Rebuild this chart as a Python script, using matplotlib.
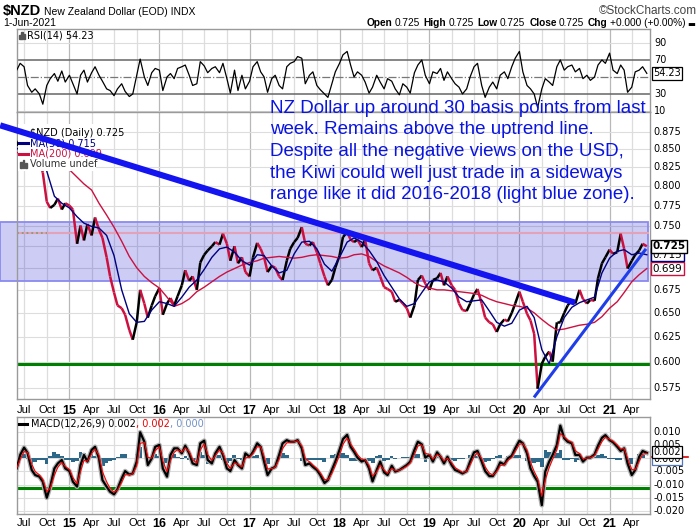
import matplotlib
matplotlib.use('Agg')
import matplotlib.pyplot as plt
import matplotlib.dates as mdates
from matplotlib.collections import LineCollection
from matplotlib.patches import Rectangle
from matplotlib.lines import Line2D
import numpy as np
import pandas as pd

W, H = 700, 530

# semi-monthly closes, Jun 2014 .. Jun 2021
price = [0.855, 0.865, 0.876, 0.868, 0.852, 0.845, 0.835, 0.818, 0.780, 0.772, 0.776, 0.784, 0.770, 0.778,
         0.775, 0.770, 0.728, 0.750, 0.732, 0.752, 0.738, 0.760, 0.745, 0.735, 0.712, 0.690,
         0.672, 0.658, 0.655, 0.648, 0.632, 0.622, 0.640, 0.675, 0.660, 0.645, 0.658, 0.668,
         0.677, 0.648, 0.660, 0.666, 0.658, 0.668, 0.680, 0.697, 0.685, 0.690, 0.675, 0.706,
         0.715, 0.720, 0.725, 0.730, 0.727, 0.740, 0.728, 0.708, 0.725, 0.705, 0.712, 0.695,
         0.690, 0.712, 0.729, 0.722, 0.712, 0.695, 0.702, 0.700, 0.690, 0.686, 0.708, 0.722,
         0.730, 0.735, 0.748, 0.728, 0.726, 0.730, 0.718, 0.705, 0.690, 0.680, 0.686, 0.700,
         0.714, 0.736, 0.742, 0.733, 0.730, 0.733, 0.724, 0.733, 0.705, 0.697, 0.700, 0.690,
         0.678, 0.676, 0.673, 0.662, 0.664, 0.660, 0.655, 0.645, 0.658, 0.686, 0.691, 0.682,
         0.675, 0.686, 0.688, 0.694, 0.680, 0.690, 0.680, 0.675, 0.660, 0.653, 0.652, 0.660,
         0.670, 0.676, 0.660, 0.645, 0.640, 0.638, 0.630, 0.638, 0.643, 0.641, 0.650, 0.660,
         0.673, 0.662, 0.649, 0.642, 0.628, 0.574, 0.598, 0.605, 0.610, 0.600, 0.640, 0.640,
         0.650, 0.658, 0.664, 0.660, 0.675, 0.665, 0.660, 0.664, 0.663, 0.688, 0.705, 0.712,
         0.721, 0.716, 0.718, 0.740, 0.722, 0.699, 0.708, 0.715, 0.720, 0.728, 0.725]

rsi = [58, 66, 62, 40, 32, 36, 30, 18, 40, 48, 54, 45, 57, 44,
       52, 42, 30, 52, 58, 44, 55, 62, 52, 45, 36, 34, 28, 36, 42, 33, 27, 30, 52, 71, 50, 40, 55, 60,
       58, 34, 50, 54, 48, 60, 62, 64, 52, 40, 42, 68, 63, 55, 60, 62, 55, 66, 48, 31, 58, 34, 52, 36,
       45, 62, 68, 56, 50, 32, 48, 52, 40, 36, 62, 66, 68, 74, 72, 42, 52, 56, 40, 35, 30, 26, 42, 56,
       66, 76, 80, 64, 50, 56, 52, 44, 31, 38, 52, 44, 36, 48, 45, 36, 29, 42, 38, 31, 55, 64, 70, 52,
       42, 56, 54, 60, 46, 56, 48, 42, 38, 30, 36, 50, 62, 66, 40, 26, 38, 44, 36, 52, 56, 48, 62, 72,
       80, 56, 40, 36, 30, 14, 36, 48, 44, 40, 62, 70, 58, 62, 64, 56, 60, 48, 52, 46, 50, 64, 70, 66,
       78, 58, 54, 64, 58, 32, 38, 56, 58, 62, 54.23]

macd = [-0.0039, 0.0012, 0.0040, 0.0020, -0.0045, -0.0064, -0.0070, -0.0089, -0.0150, -0.0108, -0.0039, -0.0020, -0.0007, -0.0039,
        -0.0049, -0.0089, -0.0108, -0.0026, 0.0012, -0.0013, 0.0031, 0.0043, -0.0001, -0.0083, -0.0108, -0.0127,
        -0.0137, -0.0117, -0.0077, -0.0049, -0.0062, -0.0058, -0.0013, 0.0098, 0.0062, -0.0026, -0.0001, 0.0043,
        0.0050, -0.0039, -0.0070, 0.0012, 0.0037, 0.0037, 0.0018, 0.0047, 0.0018, -0.0020, -0.0026, 0.0056,
        0.0066, -0.0007, -0.0020, 0.0018, 0.0043, 0.0012, -0.0039, -0.0049, -0.0007, -0.0026, -0.0039, 0.0018,
        0.0005, 0.0024, 0.0056, 0.0043, -0.0013, -0.0064, -0.0039, -0.0033, 0.0012, 0.0056, 0.0068, 0.0062,
        0.0062, 0.0068, 0.0037, -0.0026, -0.0020, -0.0033, -0.0045, -0.0064, -0.0094, -0.0083, -0.0045, -0.0013,
        0.0031, 0.0072, 0.0088, 0.0043, 0.0024, 0.0002, -0.0013, -0.0007, -0.0039, -0.0088, -0.0045, -0.0013,
        -0.0054, -0.0064, -0.0029, -0.0051, -0.0045, -0.0036, -0.0026, -0.0013, 0.0031, 0.0062, 0.0052, 0.0002,
        0.0012, -0.0013, 0.0022, 0.0005, -0.0020, 0.0005, -0.0026, -0.0045, -0.0051, -0.0058, -0.0049, -0.0013,
        0.0022, 0.0027, -0.0013, -0.0049, -0.0068, -0.0068, -0.0045, -0.0016, -0.0024, -0.0001, 0.0009, 0.0037,
        0.0066, 0.0056, 0.0018, -0.0039, -0.0068, -0.0089, -0.0178, -0.0051, -0.0013, 0.0012, 0.0050, 0.0123,
        0.0075, 0.0062, 0.0056, 0.0012, 0.0012, -0.0013, 0.0002, 0.0002, 0.0014, 0.0047, 0.0077, 0.0087,
        0.0068, 0.0060, 0.0043, 0.0027, 0.0037, -0.0020, -0.0064, -0.0045, 0.0005, 0.0027, 0.0020]

# monthly moving averages, Jun 2014 .. Jun 2021
ma50 = [0.850, 0.858, 0.862, 0.848, 0.820, 0.787, 0.778,
        0.772, 0.761, 0.753, 0.749, 0.747, 0.738, 0.714, 0.675, 0.649, 0.640, 0.641, 0.653,
        0.662, 0.660, 0.657, 0.667, 0.678, 0.686, 0.698, 0.712, 0.722, 0.724, 0.718, 0.708,
        0.703, 0.715, 0.714, 0.702, 0.694, 0.697, 0.716, 0.730, 0.731, 0.722, 0.704, 0.696,
        0.712, 0.730, 0.735, 0.730, 0.720, 0.707, 0.691, 0.678, 0.665, 0.657, 0.660, 0.672,
        0.684, 0.686, 0.684, 0.677, 0.667, 0.662, 0.663, 0.664, 0.652, 0.640, 0.636, 0.639,
        0.653, 0.657, 0.645, 0.612, 0.598, 0.625, 0.645, 0.656, 0.661, 0.664, 0.667, 0.694,
        0.711, 0.719, 0.721, 0.715, 0.717, 0.715]
ma200 = [0.845, 0.848, 0.848, 0.845, 0.838, 0.832, 0.827,
         0.822, 0.812, 0.803, 0.795, 0.778, 0.763, 0.748, 0.731, 0.713, 0.700, 0.690, 0.683,
         0.677, 0.667, 0.657, 0.660, 0.665, 0.673, 0.678, 0.684, 0.690, 0.695, 0.699, 0.703,
         0.706, 0.708, 0.711, 0.712, 0.713, 0.712, 0.711, 0.712, 0.714, 0.715, 0.714, 0.713,
         0.711, 0.712, 0.715, 0.716, 0.713, 0.707, 0.702, 0.698, 0.694, 0.689, 0.683, 0.679,
         0.677, 0.675, 0.675, 0.674, 0.673, 0.672, 0.671, 0.669, 0.665, 0.662, 0.660, 0.658,
         0.657, 0.655, 0.650, 0.643, 0.637, 0.632, 0.633, 0.635, 0.637, 0.638, 0.640, 0.646,
         0.655, 0.662, 0.672, 0.684, 0.692, 0.699]

# drawn annotations
down_dates = ['2014-03-26', '2020-08-14']
down_vals = [0.884, 0.661]
up_dates = ['2020-03-04', '2021-05-25']
up_vals = [0.567, 0.7205]
zone_lo, zone_hi = 0.6852, 0.7548
zone_dates = ['2014-03-25', '2021-06-06']
pink_level = 0.7413
support = 0.5974
macd_support = -0.0112

note = ["NZ Dollar up around 30 basis points from last",
        "week. Remains above the uptrend line.",
        "Despite all the negative views on the USD,",
        "the Kiwi could well just trade in a sideways",
        "range like it did 2016-2018 (light blue zone)."]

main_ticks = [0.575, 0.600, 0.625, 0.650, 0.675, 0.750, 0.775, 0.800, 0.825, 0.850, 0.875]
rsi_ticks = [90, 70, 30, 10]
macd_ticks = [0.010, 0.005, -0.005, -0.010, -0.015, -0.020]

dates = pd.date_range('2014-06-01', '2021-06-01', freq='SMS')
mdts = pd.date_range('2014-06-01', '2021-06-01', freq='MS')
quarters = pd.date_range('2014-07-01', '2021-04-01', freq='QS')
qlabels = [str(d.year % 100) if d.month == 1 else d.strftime('%b') for d in quarters]

xd = mdates.date2num(dates)
xm = mdates.date2num(mdts)
x0 = mdates.date2num(pd.Timestamp('2014-06-01'))
x1 = mdates.date2num(pd.Timestamp('2021-06-14'))

plt.rcParams['font.family'] = ['DejaVu Sans']
fig = plt.figure(figsize=(7, 5.3), dpi=100)
rend = fig.canvas.get_renderer()


def fx(x):
    return x / W


def fy(y):
    return 1 - y / H


L, R = 16.7, 650
ax_r = fig.add_axes([fx(L), fy(111.5), (R - L) / W, (111.5 - 29.3) / H])
ax = fig.add_axes([fx(L), fy(399), (R - L) / W, (399 - 111.5) / H])
ax_m = fig.add_axes([fx(L), fy(514.3), (R - L) / W, (514.3 - 417.3) / H])

for a in (ax_r, ax, ax_m):
    a.set_xlim(x0, x1)
    for s in a.spines.values():
        s.set_color('#9a9a9a')
        s.set_linewidth(1)
    a.set_yticks([])
    a.tick_params(length=0)
    for q in quarters:
        col = '#b8b8b8' if q.month == 1 else '#dddddd'
        a.axvline(mdates.date2num(q), color=col, lw=0.9, zorder=0)

lab_font = dict(fontsize=7, color='black', va='center', ha='left', clip_on=False)
arial = ['Liberation Sans', 'DejaVu Sans']

# ---------------- RSI panel
ax_r.set_ylim(9.4, 106)
ax_r.set_xticks([])
for v in (90, 10):
    ax_r.axhline(v, color='#dddddd', lw=0.8, zorder=0)
ax_r.axhline(70, color='#666666', lw=1.1, zorder=1)
ax_r.axhline(30, color='#666666', lw=1.1, zorder=1)
ax_r.axhline(50, color='#777777', lw=0.9, ls='-.', zorder=1)
ax_r.plot(xd, rsi, color='black', lw=0.9, zorder=3)
for v in rsi_ticks:
    ax_r.text(1.007, v, str(v), transform=ax_r.get_yaxis_transform(), **lab_font)
ax_r.text(1.005, 54.23, '54.23', transform=ax_r.get_yaxis_transform(), fontsize=7, va='center',
          ha='left', bbox=dict(boxstyle='square,pad=0.12', fc='white', ec='black', lw=0.9), zorder=5)
fig.text(fx(27), fy(38.5), 'RSI(14) 54.23', fontsize=7, va='baseline')
for i, h in enumerate([4, 7, 5]):
    fig.add_artist(Rectangle((fx(19 + i * 2.4), fy(38.5)), 1.6 / W, h / H, color='#555555'))

# ---------------- price panel
ax.set_yscale('log')
ax.set_ylim(0.5644, 0.9043)
ax.yaxis.set_minor_locator(matplotlib.ticker.NullLocator())
ax.set_yticks([])
for v in main_ticks + [0.700, 0.725]:
    ax.axhline(v, color='#dddddd', lw=0.8, zorder=0)

zx0, zx1 = mdates.date2num(pd.to_datetime(zone_dates))
ax.add_patch(Rectangle((zx0, zone_lo), zx1 - zx0, zone_hi - zone_lo, fc=(0, 0, 0.8, 0.2),
                       ec='#8a8af0', lw=1.3, clip_on=False, zorder=1))
ax.plot([x0, zx1], [pink_level] * 2, color='#e4a2b8', lw=1.5, zorder=1.5)
ax.plot([x0, mdates.date2num(pd.Timestamp('2014-10-01'))], [pink_level] * 2, color='#8c9a70',
        lw=1.3, ls=':', zorder=1.6)
ax.axhline(support, color='#008000', lw=2.2, zorder=2)

segs = [[(xd[i], price[i]), (xd[i + 1], price[i + 1])] for i in range(len(price) - 1)]
cols = ['black' if price[i + 1] >= price[i] else '#cc1040' for i in range(len(price) - 1)]
ax.add_collection(LineCollection(segs, colors=cols, linewidths=1.8, zorder=3))
ax.plot(xm, ma200, color='#cc1040', lw=1.0, zorder=3.5)
ax.plot(xm, ma50, color='#000080', lw=1.0, zorder=3.6)

ax.plot(mdates.date2num(pd.to_datetime(up_dates)), up_vals, color='#1f3de8', lw=2.2, zorder=4)

# legend with white backing
ax.add_patch(Rectangle((fx(L + 0.8), fy(171)), (95 - L) / W, (171 - 124) / H, transform=fig.transFigure,
                       fc='white', ec='none', zorder=4.5, clip_on=False))
lg = dict(fontsize=7, va='center', zorder=5, transform=fig.transFigure)
ax.text(fx(30), fy(132.5), '$NZD (Daily) 0.725', color='black', **lg)
ax.text(fx(30), fy(143.3), 'MA(50) 0.715', color='#000080', **lg)
ax.text(fx(30), fy(154), 'MA(200) 0.699', color='#cc1040', **lg)
ax.text(fx(30), fy(164.3), 'Volume undef', color='#333333', **lg)
for yy, c in ((143.3, '#000080'), (154, '#cc1040')):
    ax.add_line(Line2D([fx(19), fx(28)], [fy(yy), fy(yy)], transform=fig.transFigure, color=c, lw=2.2,
                       zorder=5, clip_on=False))
for i, h in enumerate([6, 8, 5]):
    ax.add_patch(Rectangle((fx(20 + i * 2.6), fy(168)), 1.8 / W, h / H, transform=fig.transFigure,
                           color='#555555', zorder=5, clip_on=False))

ax.plot(mdates.date2num(pd.to_datetime(down_dates)), down_vals, color='#1414f0', lw=4.4, zorder=6,
        clip_on=False, solid_capstyle='butt')

for v in main_ticks:
    ax.text(1.006, v, '%.3f' % v, transform=ax.get_yaxis_transform(), **lab_font)
boxes = [(0.699, '0.699', '#cc1040', 'normal'), (0.715, '0.715', '#000080', 'normal'),
         (0.725, '0.725', 'black', 'bold')]
for v, s, c, wgt in boxes:
    ax.text(1.004, v, s, transform=ax.get_yaxis_transform(), fontsize=7.5, va='center', ha='left',
            fontweight=wgt, bbox=dict(boxstyle='square,pad=0.12', fc='white', ec=c, lw=1), zorder=7,
            clip_on=False)

ax.set_xticks(mdates.date2num(quarters))
ax.set_xticklabels(qlabels)
ax.tick_params(axis='x', length=0, pad=4)

# annotation, sized so the first line spans the same width as the original
notes = []
for i, line in enumerate(note):
    notes.append(fig.text(fx(270), fy(113 + i * 21.5), line, color='#0a14e0', fontsize=12,
                          family=arial, va='baseline', zorder=10))
k = 378 / notes[0].get_window_extent(renderer=rend).width
for t in notes:
    t.set_fontsize(12 * k)

# ---------------- MACD panel
macd_s = pd.Series(macd)
signal = macd_s.ewm(span=2, adjust=False).mean()
hist = macd_s - signal
ax_m.set_ylim(-0.02125, 0.01545)
for v in macd_ticks + [0.0]:
    ax_m.axhline(v, color='#dddddd', lw=0.8, zorder=0)
ax_m.fill_between(xd, 0, hist, step='mid', color='#2d6889', lw=0, zorder=2)
ax_m.axhline(macd_support, color='#008000', lw=2.2, zorder=2.5)
ax_m.plot(xd, macd, color='#b0b0b0', lw=3.4, zorder=3)
ax_m.plot(xd, macd, color='black', lw=1.6, zorder=3.2)
ax_m.plot(xd, signal, color='#ff0000', lw=0.8, zorder=3.4)
for v in macd_ticks:
    ax_m.text(1.006, v, '%.3f' % v, transform=ax_m.get_yaxis_transform(), **lab_font)
ax_m.plot([1.003, 1.06], [0.0005, 0.0005], transform=ax_m.get_yaxis_transform(), color='#dd0000',
          lw=1.2, clip_on=False, zorder=4)
ax_m.text(1.005, -0.0004, '0.000', transform=ax_m.get_yaxis_transform(), fontsize=7, va='center',
          ha='left', bbox=dict(boxstyle='square,pad=0.12', fc='white', ec='#5577bb', lw=0.9), zorder=4)
ax_m.text(1.005, 0.0022, '0.002', transform=ax_m.get_yaxis_transform(), fontsize=7, va='center',
          ha='left', bbox=dict(boxstyle='square,pad=0.12', fc='white', ec='black', lw=0.9), zorder=5)
ax_m.set_xticks(mdates.date2num(quarters))
ax_m.set_xticklabels(qlabels)
ax_m.tick_params(axis='x', length=0, pad=2.5)

for a in (ax, ax_m):
    for t in a.get_xticklabels():
        t.set_family(arial)
        if t.get_text().isdigit():
            t.set_fontweight('bold')
            t.set_fontsize(9)
        else:
            t.set_fontsize(8)


# ---------------- header texts
def chain(x, y, parts, align='left'):
    objs = []
    cur = x
    for s, kw, gap in parts:
        t = fig.text(fx(cur), fy(y), s, va='baseline', **kw)
        cur += t.get_window_extent(renderer=rend).width + gap
        objs.append(t)
    if align == 'right':
        for t in objs:
            px, py = t.get_position()
            t.set_x(px - (cur - x) / W)
    return objs


chain(3, 15, [('$NZD', dict(fontsize=10.5, fontweight='bold', family=arial), 3),
              ('New Zealand Dollar (EOD) INDX', dict(fontsize=7.5, family=arial), 0)])
fig.text(fx(697), fy(13.5), '\u00a9StockCharts.com', fontsize=8.5, family=arial, color='#444444',
         ha='right', va='baseline')
fig.text(fx(3), fy(26.5), '1-Jun-2021', fontsize=7.5, family=arial, va='baseline')
b = dict(fontsize=7.3, family=arial, fontweight='bold')
n = dict(fontsize=7.3, family=arial)
chain(697, 26.5, [('Open', b, 2), ('0.725', n, 4), ('High', b, 2), ('0.725', n, 4), ('Low', b, 2),
                  ('0.725', n, 4), ('Close', b, 2), ('0.725', n, 4), ('Chg', b, 2), ('+0.000 (+0.00%)', n, 2),
                  ('\u25ac', dict(fontsize=6, family=['DejaVu Sans']), 2)], align='right')

chain(31, 426.5, [('MACD(12,26,9) 0.002', dict(fontsize=7), 0), (', 0.002', dict(fontsize=7, color='#ee0000'), 0),
                  (', 0.000', dict(fontsize=7, color='#6f90c8'), 0)])
fig.add_artist(Line2D([fx(19), fx(27)], [fy(423.5), fy(423.5)], color='black', lw=2.2))

fig.savefig('out.png', dpi=100)
